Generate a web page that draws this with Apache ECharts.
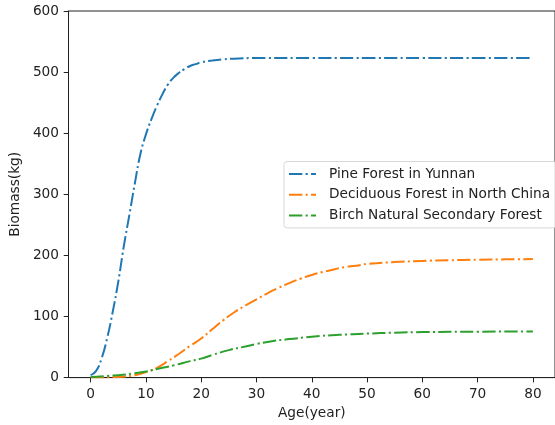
<!DOCTYPE html>
<html>
<head>
<meta charset="utf-8">
<script src="https://cdn.jsdelivr.net/npm/echarts@6/dist/echarts.min.js"></script>
<style>
  html, body { margin: 0; padding: 0; background: #fff; }
  #chart { width: 555px; height: 425px; }
</style>
</head>
<body>
<div id="chart"></div>
<script>
// data
const seriesNames = ['Pine Forest in Yunnan', 'Deciduous Forest in North China', 'Birch Natural Secondary Forest'];
const colors = ['#1f77b4', '#ff7f0e', '#2ca02c'];

const pineAge = [0, 1, 2, 3, 4, 5, 6, 7, 8, 9, 10, 11, 12, 13, 14, 15, 16, 17, 18, 19, 20, 22, 24, 26, 30, 40, 50, 60, 70, 80];
const pineBiomass = [4, 11, 32, 65, 108, 157, 215, 266, 318, 366, 398, 423, 445, 464, 480, 491, 499, 505, 510, 513, 516, 519, 521, 522, 523, 523, 523, 523, 523, 523];

const decidAge = [0, 5, 8, 10, 12, 14, 16, 18, 20, 22, 24, 26, 28, 30, 32, 34, 36, 38, 40, 42, 44, 46, 48, 50, 55, 60, 65, 70, 75, 80];
const decidBiomass = [0, 1, 4, 9, 16, 27, 39, 52, 64, 79, 94, 107, 118, 128, 138, 147, 155, 162, 168, 173, 177, 181, 183, 186, 189, 191, 192, 193, 193.5, 194];

const birchAge = [0, 5, 8, 10, 12, 15, 18, 20, 22, 25, 28, 30, 33, 36, 40, 45, 50, 55, 60, 70, 80];
const birchBiomass = [1, 4, 7, 10, 14, 20, 27, 31, 37, 45, 51, 55, 60, 63, 67, 70, 72, 73.5, 74.5, 75.2, 75.5];

const xTicks = [0, 10, 20, 30, 40, 50, 60, 70, 80];

const zip = (xs, ys) => xs.map((x, i) => [x, ys[i]]);
const dashDot = [13.3, 3.3, 2.1, 3.3];
const font = 'DejaVu Sans';

const chart = echarts.init(document.getElementById('chart'));

const makeSeries = (name, color, data) => ({
    name: name,
    type: 'line',
    data: data,
    smooth: 0.5,
    symbol: 'none',
    color: color,
    lineStyle: { color: color, width: 2, type: dashDot },
    z: 3
});

const option = {
    animation: false,
    textStyle: { fontFamily: font },
    grid: {
        left: 68, top: 11, right: -8.5, bottom: 46,
        show: true, borderColor: '#222', borderWidth: 1
    },
    legend: {
        orient: 'vertical',
        left: 284,
        top: 161.5,
        padding: [5.5, 6, 5.5, 4],
        itemWidth: 27,
        itemHeight: 14,
        itemGap: 6.7,
        borderColor: '#d8d8d8',
        borderWidth: 1,
        borderRadius: 3,
        backgroundColor: 'rgba(255,255,255,0.8)',
        itemStyle: { opacity: 0 },
        lineStyle: { width: 2, type: dashDot },
        textStyle: { fontFamily: font, fontSize: 13.7, color: '#222', padding: [0, 0, 0, 8] },
        data: seriesNames
    },
    xAxis: {
        type: 'value',
        min: -4,
        max: 84,
        name: 'Age(year)',
        nameLocation: 'middle',
        nameGap: 28,
        nameTextStyle: { fontFamily: font, fontSize: 13.7, color: '#222' },
        axisLine: { show: true, onZero: false, lineStyle: { color: '#222', width: 1 } },
        axisTick: { show: true, length: 4.8, customValues: xTicks, lineStyle: { color: '#222' } },
        axisLabel: { customValues: xTicks, margin: 9.5, fontFamily: font, fontSize: 13.7, color: '#222' },
        splitLine: { show: false }
    },
    yAxis: {
        type: 'value',
        min: 0,
        max: 600,
        interval: 100,
        name: 'Biomass(kg)',
        nameLocation: 'middle',
        nameGap: 43,
        nameTextStyle: { fontFamily: font, fontSize: 13.7, color: '#222' },
        axisLine: { show: true, onZero: false, lineStyle: { color: '#222', width: 1 } },
        axisTick: { show: true, length: 4.8, lineStyle: { color: '#222' } },
        axisLabel: { margin: 9.5, fontFamily: font, fontSize: 13.7, color: '#222' },
        splitLine: { show: false }
    },
    series: [
        makeSeries(seriesNames[0], colors[0], zip(pineAge, pineBiomass)),
        makeSeries(seriesNames[1], colors[1], zip(decidAge, decidBiomass)),
        makeSeries(seriesNames[2], colors[2], zip(birchAge, birchBiomass))
    ]
};

chart.setOption(option);
</script>
</body>
</html>
